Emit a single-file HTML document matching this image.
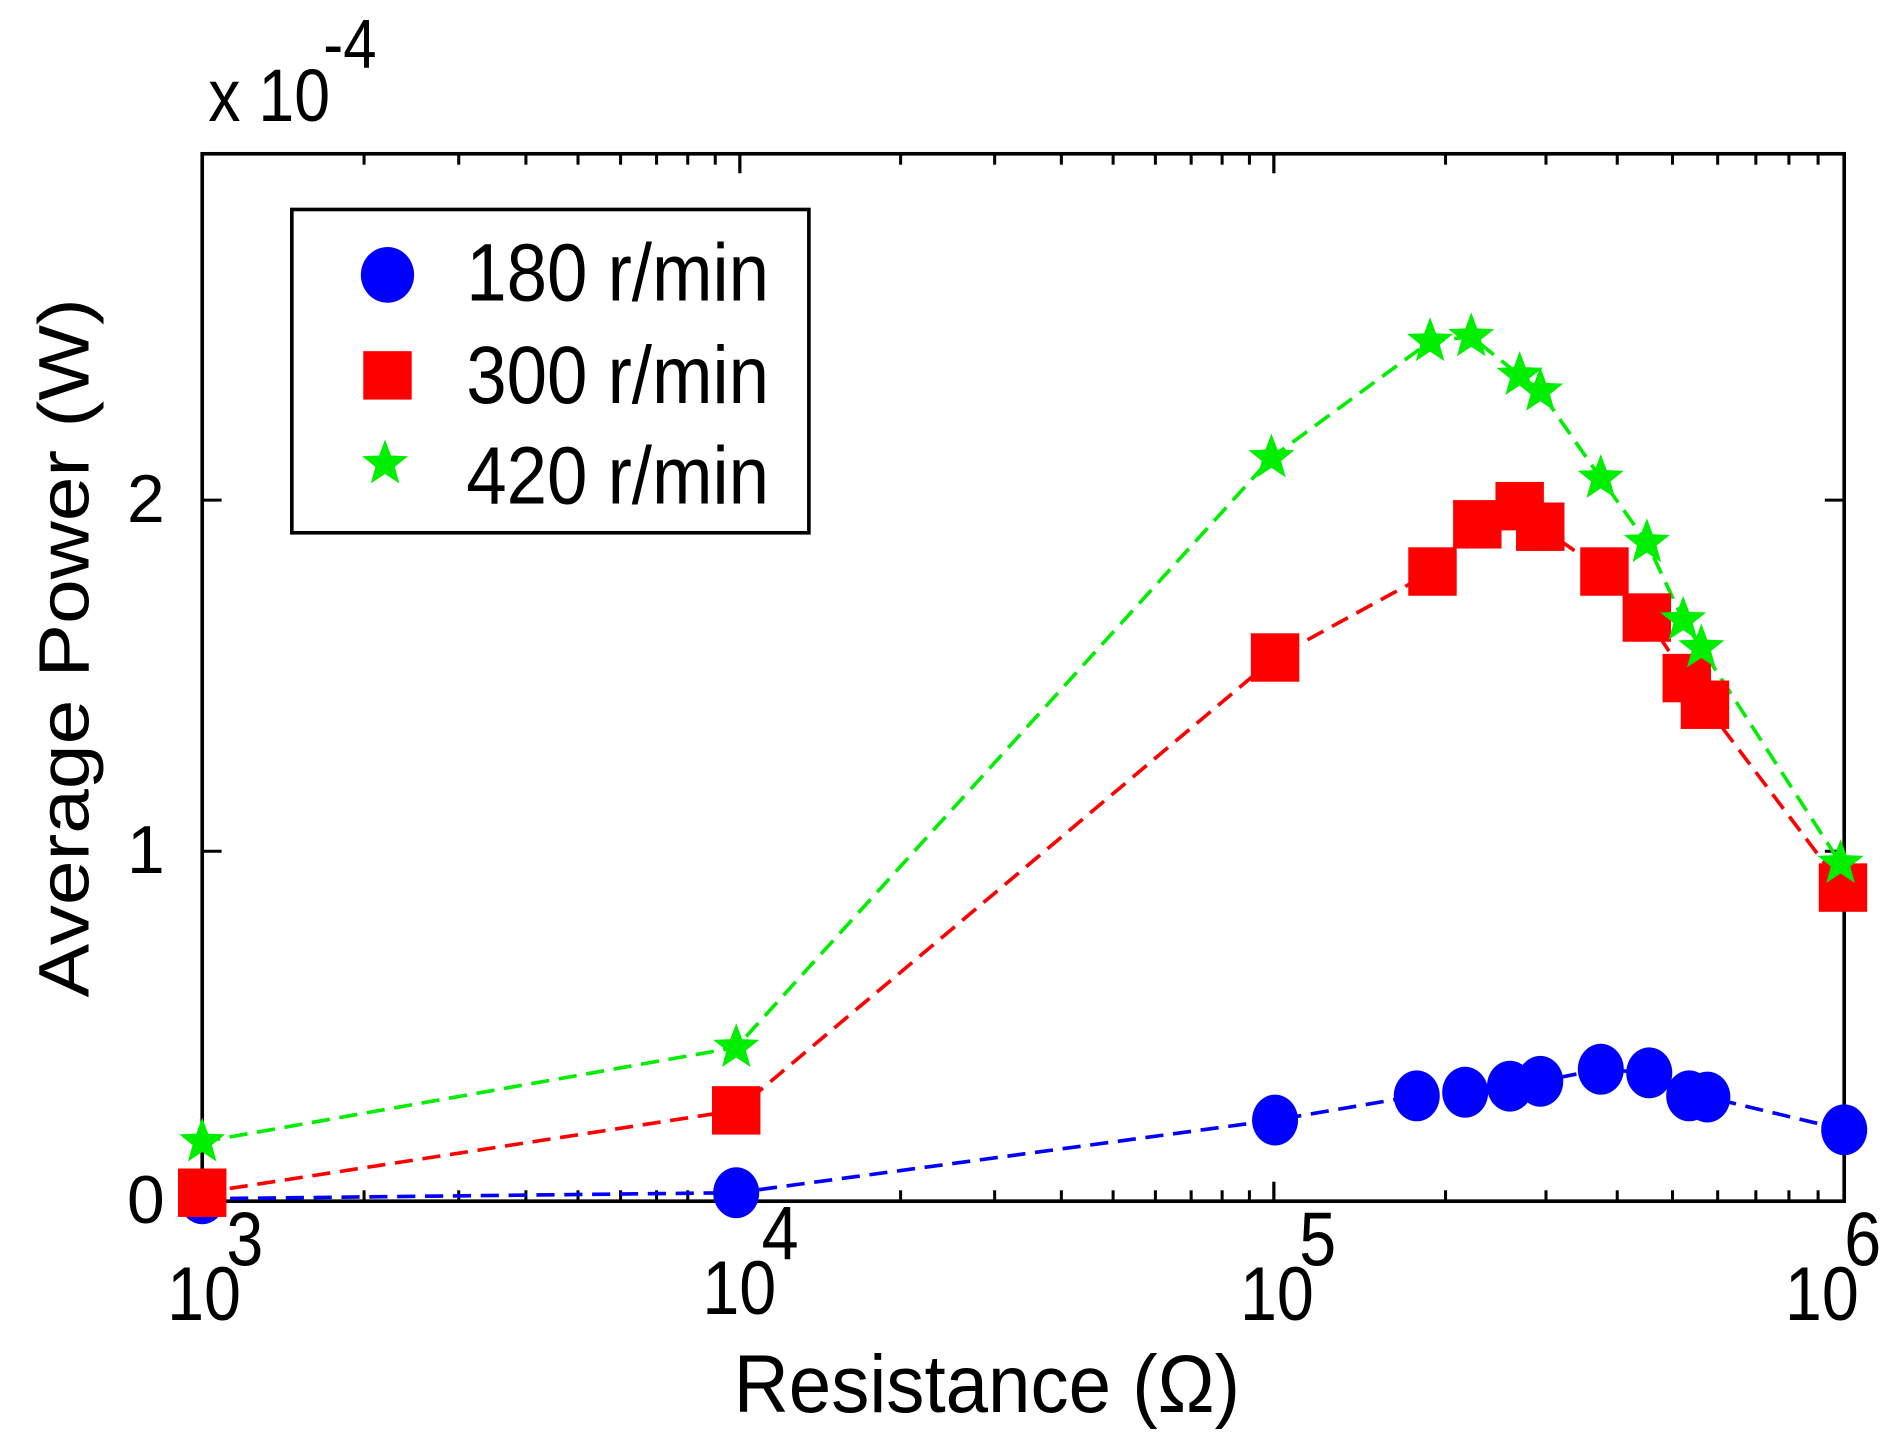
<!DOCTYPE html>
<html><head><style>html,body{margin:0;padding:0;background:#fff}svg{display:block}text{font-family:"Liberation Sans",sans-serif;fill:#000}</style></head><body>
<svg width="1889" height="1447" viewBox="0 0 1560 1195" preserveAspectRatio="none" xmlns="http://www.w3.org/2000/svg">
<rect x="167" y="127" width="1356" height="865" fill="#fff" stroke="#000" stroke-width="3"/>
<g stroke="#000" stroke-width="2.5" id="ticks"></g>
<g font-size="56">
<g transform="translate(172,100) scale(0.95,1.1)"><text x="0" y="0">x 10</text><text x="100" y="-40" font-size="52">-4</text></g>
<text x="136" y="1010" text-anchor="end">0</text>
<text x="136" y="721" text-anchor="end">1</text>
<text x="136" y="431" text-anchor="end">2</text>
<g transform="translate(138,1090) scale(0.98,1.12)"><text x="0" y="0">10</text><text x="50" y="-40">3</text></g>
<g transform="translate(580,1085) scale(0.98,1.12)"><text x="0" y="0">10</text><text x="50" y="-40">4</text></g>
<g transform="translate(1024,1090) scale(0.98,1.12)"><text x="0" y="0">10</text><text x="50" y="-40">5</text></g>
<g transform="translate(1474,1090) scale(0.98,1.12)"><text x="0" y="0">10</text><text x="50" y="-40">6</text></g>
<text transform="translate(815,1166) scale(1.05,1.12)" text-anchor="middle" font-size="60">Resistance (Ω)</text>
<text transform="translate(73,535) rotate(-90) scale(1.07,0.95)" text-anchor="middle" font-size="62">Average Power (W)</text>
</g>
<g fill="none" stroke-width="3" stroke-dasharray="15,8">
<polyline stroke="#00f" points="167,990 608,985 1053,925 1170,905 1210,902 1247,897 1272,893 1322,883 1362,886 1395,905 1410,906 1523,933"/>
<polyline stroke="#f00" points="167,985 608,917 1053,543 1183,472 1220,433 1255,418 1272,435 1325,472 1360,510 1393,560 1408,582 1522,733"/>
<polyline stroke="#0e0" points="167,943 608,865 1050,378 1181,282 1215,278 1255,310 1272,323 1322,395 1360,448 1390,512 1405,535 1520,713"/>
</g>
<g fill="#00f">
<ellipse cx="167" cy="990" rx="19" ry="21"/><ellipse cx="608" cy="985" rx="19" ry="21"/><ellipse cx="1053" cy="925" rx="19" ry="21"/><ellipse cx="1170" cy="905" rx="19" ry="21"/><ellipse cx="1210" cy="902" rx="19" ry="21"/><ellipse cx="1247" cy="897" rx="19" ry="21"/><ellipse cx="1272" cy="893" rx="19" ry="21"/><ellipse cx="1322" cy="883" rx="19" ry="21"/><ellipse cx="1362" cy="886" rx="19" ry="21"/><ellipse cx="1395" cy="905" rx="19" ry="21"/><ellipse cx="1410" cy="906" rx="19" ry="21"/><ellipse cx="1523" cy="933" rx="19" ry="21"/>
<ellipse cx="320" cy="227" rx="22" ry="23"/>
</g>
<g fill="#f00" id="sq"></g>
<g fill="#0e0" id="st"></g>
<rect x="241" y="173" width="427" height="267" fill="none" stroke="#000" stroke-width="3"/>
<g font-size="60"><text transform="translate(385,248) scale(1.0,1.12)">180 r/min</text><text transform="translate(385,333) scale(1.0,1.12)">300 r/min</text><text transform="translate(385,416) scale(1.0,1.12)">420 r/min</text></g>
<script>
var ns="http://www.w3.org/2000/svg";
var T=document.getElementById("ticks"),S=document.getElementById("sq"),G=document.getElementById("st");
function ln(x1,y1,x2,y2){var l=document.createElementNS(ns,"line");l.setAttribute("x1",x1);l.setAttribute("y1",y1);l.setAttribute("x2",x2);l.setAttribute("y2",y2);T.appendChild(l);}
var D=[167,611,1052,1523];
for(var d=0;d<3;d++){for(var k=1;k<=10;k++){var x=D[d]+(D[d+1]-D[d])*Math.log10(k);var L=(k==1||k==10)?16:9;ln(x,992,x,992-L);ln(x,127,x,127+L);}}
[992,703,413].forEach(function(y){ln(167,y,183,y);ln(1523,y,1507,y);});
var R=[[167,985],[608,917],[1053,543],[1183,472],[1220,433],[1255,418],[1272,435],[1325,472],[1360,510],[1393,560],[1408,582],[1522,733],[320,310]];
R.forEach(function(p){var r=document.createElementNS(ns,"rect");r.setAttribute("x",p[0]-20);r.setAttribute("y",p[1]-20);r.setAttribute("width",40);r.setAttribute("height",40);S.appendChild(r);});
function star(cx,cy,R1){var pts=[];for(var i=0;i<10;i++){var a=-Math.PI/2+i*Math.PI/5;var r=i%2?R1*0.42:R1;pts.push((cx+r*Math.cos(a)).toFixed(1)+","+(cy+r*Math.sin(a)).toFixed(1));}var p=document.createElementNS(ns,"polygon");p.setAttribute("points",pts.join(" "));G.appendChild(p);}
[[167,943],[608,865],[1050,378],[1181,282],[1215,278],[1255,310],[1272,323],[1322,395],[1360,448],[1390,512],[1405,535],[1520,713],[318,383]].forEach(function(p){star(p[0],p[1],20);});
</script>
</svg>
</body></html>
